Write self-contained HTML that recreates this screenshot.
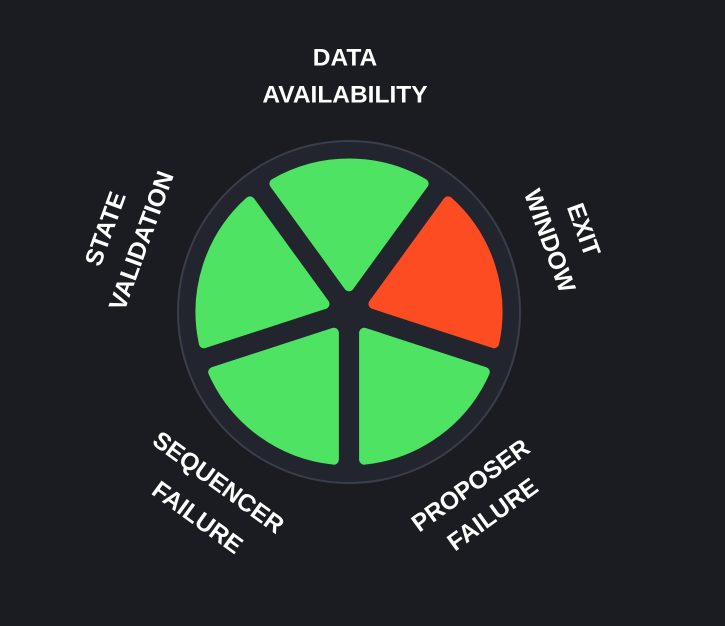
<!DOCTYPE html>
<html><head><meta charset="utf-8"><style>
html,body{margin:0;padding:0;background:#1b1c21;}
svg{display:block}
text{font-family:"Liberation Sans",sans-serif;font-weight:bold;font-size:24.5px;fill:#fff;text-anchor:middle;dominant-baseline:central}
</style></head><body>
<svg width="725" height="626" viewBox="0 0 725 626">
<rect width="725" height="626" fill="#1b1c21"/>
<circle cx="349" cy="312" r="171" fill="#22252e" stroke="#3a3e4b" stroke-width="2"/>
<g transform="translate(349,314) scale(1.01) translate(-349,-312)" stroke-width="10" stroke-linejoin="round">
<path d="M275.2 182.9 A147 147 0 0 1 422.8 182.9 L349 284.5 Z" fill="#4ee362" stroke="#4ee362"/>
<path d="M447.1 200.5 A147 147 0 0 1 492.7 340.9 L373.3 302.1 Z" fill="#fd4c22" stroke="#fd4c22"/>
<path d="M483.4 369.5 A147 147 0 0 1 364.0 456.2 L364.0 330.6 Z" fill="#4ee362" stroke="#4ee362"/>
<path d="M334.0 456.2 A147 147 0 0 1 214.6 369.5 L334.0 330.6 Z" fill="#4ee362" stroke="#4ee362"/>
<path d="M205.3 340.9 A147 147 0 0 1 250.9 200.5 L324.7 302.1 Z" fill="#4ee362" stroke="#4ee362"/>
</g>
<text x="345" y="58">DATA</text>
<text x="345" y="95">AVAILABILITY</text>
<text transform="translate(106,229) rotate(-70)">STATE</text>
<text transform="translate(142,241) rotate(-70)">VALIDATION</text>
<text transform="translate(583,230) rotate(70)">EXIT</text>
<text transform="translate(549,241) rotate(70)">WINDOW</text>
<text transform="translate(218,483) rotate(36)">SEQUENCER</text>
<text transform="translate(197,518) rotate(36)">FAILURE</text>
<text transform="translate(471,486) rotate(-36)">PROPOSER</text>
<text transform="translate(493,515) rotate(-36)">FAILURE</text>
</svg>
</body></html>
